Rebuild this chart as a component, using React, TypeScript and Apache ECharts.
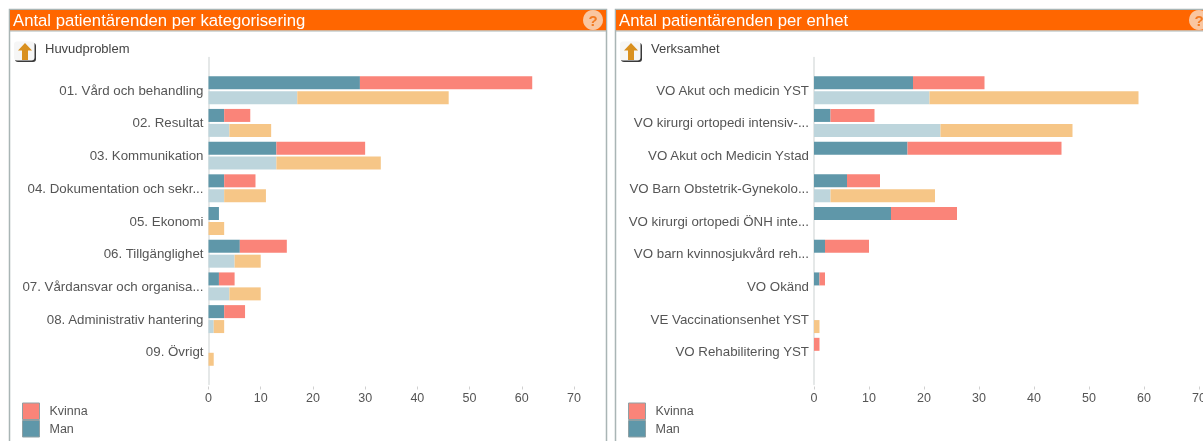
import React, { useEffect, useRef } from "react";
import * as echarts from "echarts";

const leftCategories = [
  "01. Vård och behandling",
  "02. Resultat",
  "03. Kommunikation",
  "04. Dokumentation och sekr...",
  "05. Ekonomi",
  "06. Tillgänglighet",
  "07. Vårdansvar och organisa...",
  "08. Administrativ hantering",
  "09. Övrigt",
];
const leftMan = [29, 3, 13, 3, 2, 6, 2, 3, 0];
const leftKvinna = [33, 5, 17, 6, 0, 9, 3, 4, 0];
const leftManPrev = [17, 4, 13, 3, 0, 5, 4, 1, 0];
const leftKvinnaPrev = [29, 8, 20, 8, 3, 5, 6, 2, 1];

const rightCategories = [
  "VO Akut och medicin YST",
  "VO kirurgi ortopedi intensiv-...",
  "VO Akut och Medicin Ystad",
  "VO Barn Obstetrik-Gynekolo...",
  "VO kirurgi ortopedi ÖNH inte...",
  "VO barn kvinnosjukvård reh...",
  "VO Okänd",
  "VE Vaccinationsenhet YST",
  "VO Rehabilitering YST",
];
const rightMan = [18, 3, 17, 6, 14, 2, 1, 0, 0];
const rightKvinna = [13, 8, 28, 6, 12, 8, 1, 0, 1];
const rightManPrev = [21, 23, 0, 3, 0, 0, 0, 0, 0];
const rightKvinnaPrev = [38, 24, 0, 19, 0, 0, 0, 1, 0];

const xTicks = [0, 10, 20, 30, 40, 50, 60, 70];
const legendNames = ["Kvinna", "Man"];
const titles = ["Antal patientärenden per kategorisering", "Antal patientärenden per enhet"];
const drillLabels = ["Huvudproblem", "Verksamhet"];

const COLORS = { man: "#5F97A9", kvinna: "#FA8479", manPrev: "#BDD5DC", kvinnaPrev: "#F6C687" };
const FONT = "'Liberation Sans', Arial, sans-serif";
const pad = (a: (number | string)[], blank: any) => [blank, ...a, blank];

function panel(px: number, w: number, title: string, drill: string): any[] {
  return [
    { type: "rect", shape: { x: px + 0.5, y: 9.5, width: w, height: 460 }, style: { fill: "#fff", stroke: "#A9B5B5", lineWidth: 1.5 }, silent: true },
    { type: "rect", shape: { x: px + 1, y: 10, width: w - 1, height: 20.5 }, style: { fill: "#FF6600" }, silent: true },
    { type: "line", shape: { x1: px, y1: 31, x2: px + w, y2: 31 }, style: { stroke: "#A9B5B5", lineWidth: 1 }, silent: true },
    { type: "text", x: px + 4, y: 20.5, style: { text: title, fill: "#fff", font: `16.7px ${FONT}`, textVerticalAlign: "middle" }, silent: true },
    { type: "circle", shape: { cx: px + w - 13, cy: 20, r: 10 }, style: { fill: "#FAC6A0" }, silent: true },
    { type: "text", x: px + w - 13, y: 20.5, style: { text: "?", fill: "#F27A22", font: `bold 15px ${FONT}`, textAlign: "center", textVerticalAlign: "middle" }, silent: true },
    { type: "rect", shape: { x: px + 6, y: 43, width: 21, height: 19, r: 3 }, style: { fill: "#3a3a3a" }, silent: true },
    { type: "rect", shape: { x: px + 5, y: 41.5, width: 20.5, height: 19, r: 3 }, style: { fill: "#f6f6f6" }, silent: true },
    { type: "polygon", shape: { points: [[px + 16, 43], [px + 23, 50.5], [px + 19, 50.5], [px + 19, 60], [px + 13, 60], [px + 13, 50.5], [px + 9, 50.5]] }, style: { fill: "#D9901F" }, silent: true },
    { type: "text", x: px + 36, y: 48, style: { text: drill, fill: "#444", font: `13px ${FONT}`, textVerticalAlign: "middle" }, silent: true },
  ];
}

function barSeries(idx: number, man: number[], kvinna: number[], manPrev: number[], kvinnaPrev: number[]): any[] {
  const base = { type: "bar", xAxisIndex: idx, yAxisIndex: idx, barWidth: 13, barGap: "15%", silent: true };
  return [
    { ...base, name: "Man", stack: `cur${idx}`, data: pad(man, null), itemStyle: { color: COLORS.man } },
    { ...base, name: "Kvinna", stack: `cur${idx}`, data: pad(kvinna, null), itemStyle: { color: COLORS.kvinna } },
    { ...base, name: "Man föregående", stack: `prev${idx}`, data: pad(manPrev, null), itemStyle: { color: COLORS.manPrev } },
    { ...base, name: "Kvinna föregående", stack: `prev${idx}`, data: pad(kvinnaPrev, null), itemStyle: { color: COLORS.kvinnaPrev } },
  ];
}

export default function App() {
  const ref = useRef<HTMLDivElement>(null);
  useEffect(() => {
    const chart = echarts.init(ref.current!, undefined, { renderer: "svg" });
    const xAxis = (gridIndex: number) => ({
      type: "value",
      gridIndex,
      min: xTicks[0],
      max: xTicks[xTicks.length - 1],
      interval: 10,
      offset: 2,
      splitLine: { show: false },
      axisLine: { show: false },
      axisTick: { show: true, length: 3, lineStyle: { color: "#D0D0D0" } },
      axisLabel: { color: "#555", fontSize: 12.5, fontFamily: FONT, margin: 5, hideOverlap: false },
    });
    const yAxis = (gridIndex: number, cats: string[]) => ({
      type: "category",
      gridIndex,
      inverse: true,
      boundaryGap: false,
      data: pad(cats, ""),
      axisLine: { show: true, lineStyle: { color: "#DDE1E1", width: 1.5 } },
      axisTick: { show: false },
      splitLine: { show: false },
      axisLabel: { color: "#555", fontSize: 13.3, fontFamily: FONT, margin: 5, interval: 0 },
    });
    const legend = (left: number) => ({
      left,
      top: 402.5,
      padding: 0,
      orient: "vertical",
      itemWidth: 17,
      itemHeight: 16.5,
      itemGap: 0,
      data: legendNames,
      selectedMode: false,
      icon: "rect",
      itemStyle: { borderColor: "#8fa0a4", borderWidth: 1 },
      textStyle: { color: "#555", fontSize: 12.5, fontFamily: FONT, padding: [0, 0, 0, 5] },
    });
    chart.setOption({
      animation: false,
      backgroundColor: "#fff",
      graphic: { elements: [...panel(9, 597, titles[0], drillLabels[0]), ...panel(615, 597, titles[1], drillLabels[1])] },
      legend: [legend(22), legend(628)],
      grid: [
        { left: 208.5, width: 365.5, top: 57.5, height: 327, outerBoundsMode: "none" },
        { left: 814, width: 385, top: 57.5, height: 327, outerBoundsMode: "none" },
      ],
      xAxis: [xAxis(0), xAxis(1)],
      yAxis: [yAxis(0, leftCategories), yAxis(1, rightCategories)],
      series: [
        ...barSeries(0, leftMan, leftKvinna, leftManPrev, leftKvinnaPrev),
        ...barSeries(1, rightMan, rightKvinna, rightManPrev, rightKvinnaPrev),
      ],
    });
    return () => chart.dispose();
  }, []);
  return (
    <div
      ref={ref}
      style={{ position: "fixed", left: 0, top: 0, width: 1203, height: 441, overflow: "hidden", filter: "blur(0.45px)" }}
    />
  );
}
